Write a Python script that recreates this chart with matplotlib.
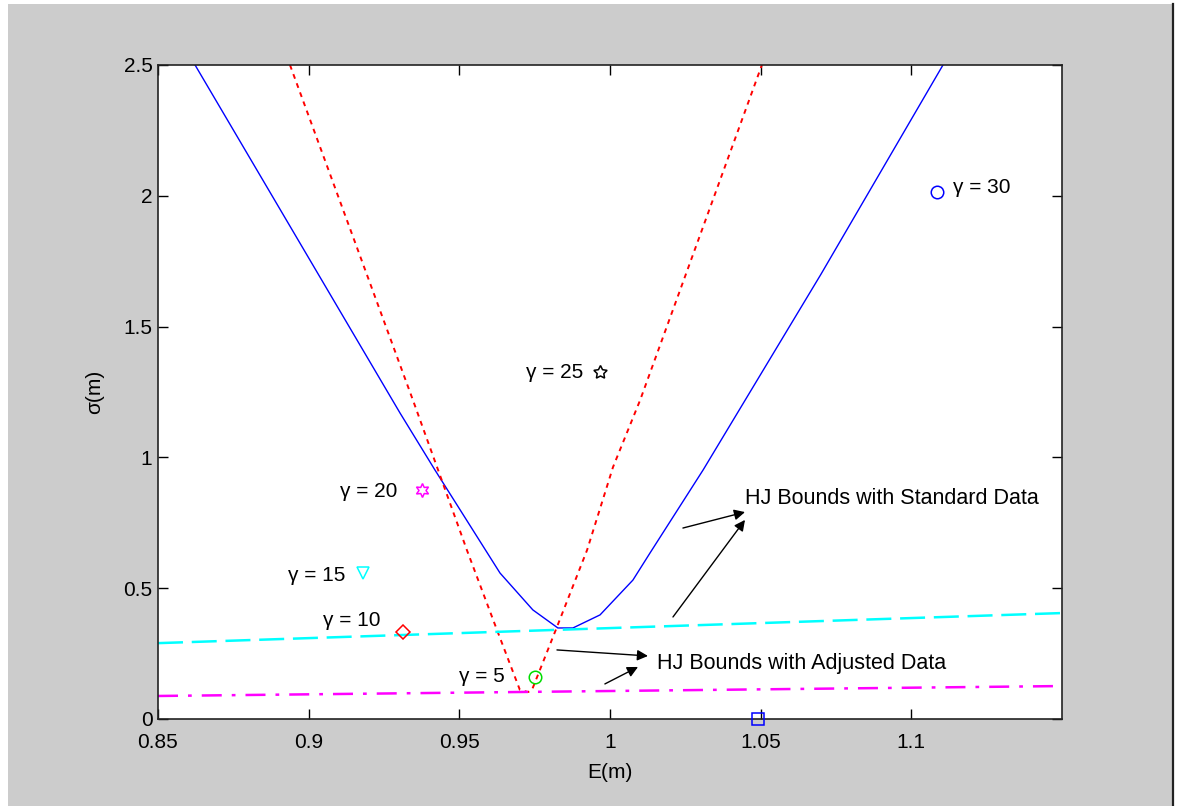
import matplotlib
matplotlib.use("Agg")
import matplotlib.pyplot as plt
from matplotlib.patches import Rectangle
from matplotlib.lines import Line2D

plt.rcParams['font.family'] = ['Liberation Sans', 'DejaVu Sans']

# HJ bound, standard data (blue solid)
std_E = [0.8623, 0.9303, 0.9419, 0.9635, 0.9744, 0.9827, 0.9877, 0.9967, 1.0076, 1.0133, 1.0309, 1.0700, 1.1105]
std_S = [2.50, 1.170, 0.952, 0.558, 0.417, 0.348, 0.348, 0.398, 0.531, 0.635, 0.952, 1.700, 2.50]

# HJ bound, adjusted data (red dotted)
adj_E = [0.8938, 0.9346, 0.9426, 0.9525, 0.9625, 0.9701, 0.9728, 0.9741, 0.9824, 0.9924, 1.0010, 1.0100, 1.0504]
adj_S = [2.50, 1.219, 0.963, 0.646, 0.340, 0.111, 0.103, 0.111, 0.352, 0.646, 0.963, 1.219, 2.50]

# near-flat bounds
cyan_E = [0.85, 1.15]
cyan_S = [0.290, 0.405]
mag_E = [0.85, 1.15]
mag_S = [0.088, 0.126]

# model points for different gamma
gammas = [5, 10, 15, 20, 25, 30]
g_E = [0.9751, 0.9313, 0.9180, 0.9376, 0.9967, 1.1085]
g_S = [0.161, 0.333, 0.558, 0.875, 1.326, 2.015]
g_colors = ['#00dd00', 'red', 'cyan', 'magenta', 'black', 'blue']
g_markers = ['o', 'D', 'v', (6, 1, 0), (5, 1, 0), 'o']
g_sizes = [9, 7, 9, 10, 10, 9]

sq_E = [1.049]
sq_S = [0.0]

xticks = [0.85, 0.9, 0.95, 1.0, 1.05, 1.1]
xtick_labels = ['0.85', '0.9', '0.95', '1', '1.05', '1.1']
yticks = [0, 0.5, 1, 1.5, 2, 2.5]
ytick_labels = ['0', '0.5', '1', '1.5', '2', '2.5']

W, H = 1181, 806
fig = plt.figure(figsize=(W / 100, H / 100), dpi=100)
fig.patch.set_facecolor('white')
fig.patches.append(Rectangle((8 / W, 0), (1173 - 8) / W, (H - 4) / H,
                             transform=fig.transFigure, facecolor='#cccccc',
                             edgecolor='none', zorder=-10))
fig.lines.append(Line2D([1173 / W, 1173 / W], [0, (H - 4) / H], transform=fig.transFigure,
                        color='#222222', lw=1.6))

ax = fig.add_axes([158 / W, 1 - 719 / H, (1062 - 158) / W, (719 - 65) / H])
ax.set_facecolor('white')

ax.plot(std_E, std_S, color='blue', lw=1.0)
ax.plot(adj_E, adj_S, color='red', lw=1.4, linestyle=(0, (2.5, 2.5)))
ax.plot(cyan_E, cyan_S, color='cyan', lw=1.8, linestyle=(0, (10, 3.5)))
ax.plot(mag_E, mag_S, color='magenta', lw=1.8, linestyle=(0, (8, 4, 1.5, 4)))

for e, s, c, m, ms in zip(g_E, g_S, g_colors, g_markers, g_sizes):
    ax.plot([e], [s], marker=m, color=c, mfc='none', mec=c, mew=1.1, ms=ms, linestyle='none')
ax.plot(sq_E, sq_S, marker='s', color='blue', mfc='none', mec='blue', mew=1.1, ms=9,
        linestyle='none', clip_on=False, zorder=5)

fs = 15
label_pos = {5: (0.9652, 0.161, 'right'), 10: (0.9237, 0.378, 'right'),
             15: (0.9121, 0.547, 'right'), 20: (0.9296, 0.868, 'right'),
             25: (0.9910, 1.326, 'right'), 30: (1.1138, 2.030, 'left')}
for g in gammas:
    x, y, ha = label_pos[g]
    ax.text(x, y, '\u03b3 = %d' % g, ha=ha, va='center', fontsize=fs)

ax.text(1.0448, 0.841, 'HJ Bounds with Standard Data', ha='left', va='center', fontsize=15.5)
ax.text(1.0156, 0.214, 'HJ Bounds with Adjusted Data', ha='left', va='center', fontsize=15.5)

ap = dict(arrowstyle='-|>', color='black', lw=1.0, mutation_scale=16, shrinkA=0, shrinkB=0)
ax.annotate('', xy=(1.0448, 0.791), xytext=(1.0242, 0.730), arrowprops=ap)
ax.annotate('', xy=(1.0448, 0.761), xytext=(1.0209, 0.390), arrowprops=ap)
ax.annotate('', xy=(1.0126, 0.241), xytext=(0.9824, 0.264), arrowprops=ap)
ax.annotate('', xy=(1.0093, 0.199), xytext=(0.9983, 0.134), arrowprops=ap)

ax.set_xlim(0.85, 1.15)
ax.set_ylim(0, 2.5)
ax.set_xticks(xticks)
ax.set_xticklabels(xtick_labels)
ax.set_yticks(yticks)
ax.set_yticklabels(ytick_labels)
ax.tick_params(direction='in', length=7, width=1, top=True, right=True, labelsize=15)
ax.tick_params(axis='x', pad=10)
ax.tick_params(axis='y', pad=4)
for sp in ax.spines.values():
    sp.set_linewidth(1.2)
    sp.set_color('#222222')

ax.set_xlabel('E(m)', fontsize=15, labelpad=8)
ax.set_ylabel('\u03c3(m)', fontsize=15, labelpad=14)

fig.savefig('out.png', dpi=100)
